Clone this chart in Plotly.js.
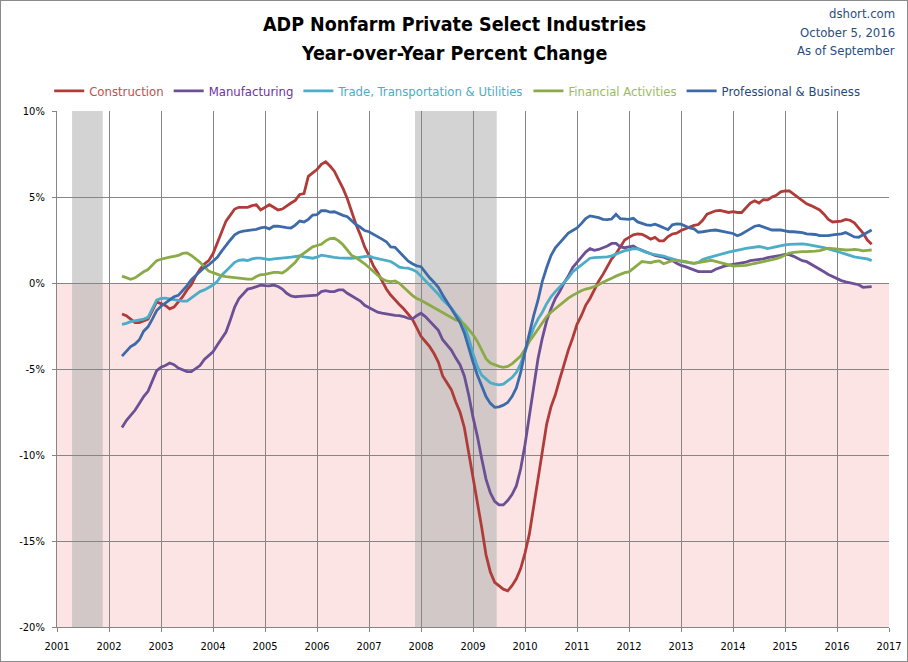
<!DOCTYPE html>
<html>
<head>
<meta charset="utf-8">
<script src="https://cdn.plot.ly/plotly-3.0.1.min.js"></script>
<style>
  html, body { margin: 0; padding: 0; background: #fff; }
  #wrap { position: relative; width: 908px; height: 662px; }
  #chart { width: 908px; height: 662px; }
  #frame { position: absolute; left: 0; top: 0; width: 906px; height: 660px; border: 1px solid #8a8a8a; pointer-events: none; }
</style>
</head>
<body>
<div id="wrap"><div id="chart"></div><div id="frame"></div></div>
<script>
// ---- Data (monthly, April 2002 through September 2016) ----
const startYear = 2002;
const startMonth = 4;

const seriesNames = ["Construction", "Manufacturing", "Trade, Transportation & Utilities", "Financial Activities", "Professional & Business"];

const construction = [
 -1.8,-1.9,-2.1,-2.3,-2.3,-2.2,-2.1,-1.6,-1.1,
 -1.2,-1.3,-1.5,-1.4,-1.1,-0.8,-0.4,-0.1,0.4,0.8,1.1,1.3,
 1.7,2.3,3.0,3.6,3.95,4.3,4.4,4.4,4.4,4.5,4.55,4.25,
 4.4,4.55,4.4,4.25,4.3,4.5,4.65,4.8,5.15,5.2,6.2,6.4,
 6.6,6.9,7.05,6.8,6.5,6.0,5.5,4.9,4.1,3.4,2.8,2.1,
 1.6,1.0,0.6,0.15,-0.35,-0.7,-1.0,-1.25,-1.5,-1.8,-2.1,-2.6,
 -3.1,-3.4,-3.7,-4.1,-4.6,-5.4,-5.8,-6.2,-6.9,-7.5,-8.4,-9.8,
 -11.2,-12.6,-14.2,-15.8,-16.8,-17.4,-17.6,-17.8,-17.9,-17.6,-17.2,-16.6,
 -15.7,-14.6,-13.0,-11.4,-9.8,-8.2,-7.2,-6.5,-5.6,-4.7,-3.9,-3.2,
 -2.4,-1.9,-1.3,-0.9,-0.4,0.1,0.5,0.95,1.4,1.7,2.1,2.5,
 2.65,2.8,2.85,2.83,2.7,2.55,2.65,2.45,2.45,2.7,2.85,2.9,
 3.05,3.15,3.28,3.35,3.4,3.65,4.0,4.08,4.2,4.22,4.18,4.1,
 4.15,4.1,4.1,4.4,4.65,4.78,4.65,4.85,4.83,5.0,5.1,5.3,
 5.35,5.35,5.15,4.98,4.8,4.6,4.5,4.35,4.25,4.0,3.7,3.55,
 3.56,3.6,3.7,3.65,3.5,3.2,2.9,2.5,2.25
];

const manufacturing = [
 -8.4,-8.0,-7.7,-7.4,-7.0,-6.6,-6.3,-5.7,-5.1,
 -4.9,-4.8,-4.65,-4.75,-4.95,-5.05,-5.15,-5.15,-4.95,-4.8,-4.45,-4.2,
 -4.0,-3.6,-3.2,-2.85,-2.15,-1.4,-0.9,-0.6,-0.35,-0.3,-0.22,-0.12,
 -0.15,-0.17,-0.12,-0.2,-0.35,-0.6,-0.75,-0.8,-0.78,-0.76,-0.76,-0.76,
 -0.7,-0.5,-0.45,-0.5,-0.5,-0.4,-0.4,-0.6,-0.75,-0.9,-1.05,-1.3,
 -1.45,-1.6,-1.7,-1.75,-1.8,-1.85,-1.88,-1.9,-1.95,-2.05,-2.1,-1.9,
 -1.76,-1.95,-2.2,-2.5,-2.75,-3.3,-3.6,-3.9,-4.35,-4.75,-5.4,-6.5,
 -7.8,-8.9,-10.2,-11.4,-12.2,-12.7,-12.9,-12.9,-12.65,-12.3,-11.8,-10.8,
 -9.4,-7.8,-6.0,-4.4,-3.2,-2.2,-1.5,-0.9,-0.5,0.0,0.4,0.9,
 1.2,1.5,1.8,2.0,1.9,1.95,2.05,2.15,2.3,2.3,2.1,2.05,
 2.1,2.15,2.0,1.9,1.78,1.68,1.6,1.55,1.5,1.4,1.3,1.15,
 1.02,0.95,0.85,0.72,0.66,0.66,0.66,0.66,0.8,0.9,0.98,1.04,
 1.08,1.12,1.16,1.22,1.3,1.32,1.34,1.4,1.47,1.5,1.55,1.6,
 1.66,1.65,1.55,1.4,1.3,1.24,1.08,0.95,0.8,0.65,0.5,0.38,
 0.28,0.14,0.07,0.02,-0.03,-0.1,-0.25,-0.25,-0.21
];

const trade = [
 -2.4,-2.35,-2.25,-2.2,-2.15,-2.1,-2.0,-1.5,-1.0,
 -0.9,-0.88,-0.92,-0.97,-1.0,-1.05,-1.05,-0.85,-0.65,-0.5,-0.4,-0.25,
 -0.12,0.1,0.45,0.7,0.95,1.2,1.32,1.35,1.3,1.4,1.45,1.45,
 1.4,1.36,1.4,1.44,1.44,1.48,1.5,1.53,1.57,1.52,1.5,1.44,
 1.5,1.62,1.58,1.52,1.49,1.46,1.44,1.44,1.44,1.46,1.5,1.55,
 1.57,1.48,1.42,1.38,1.34,1.25,1.1,0.92,0.88,0.86,0.78,0.65,
 0.4,0.15,-0.1,-0.35,-0.65,-0.98,-1.2,-1.45,-1.8,-2.1,-2.5,-3.2,
 -4.1,-4.85,-5.35,-5.6,-5.8,-5.88,-5.92,-5.88,-5.7,-5.5,-5.2,-4.7,
 -4.0,-3.3,-2.6,-2.1,-1.7,-1.2,-0.8,-0.5,-0.25,0.05,0.3,0.65,
 0.85,1.0,1.25,1.44,1.48,1.48,1.5,1.52,1.58,1.68,1.78,1.88,
 1.93,2.0,1.98,1.86,1.78,1.7,1.66,1.62,1.57,1.48,1.4,1.32,
 1.26,1.22,1.18,1.14,1.2,1.36,1.45,1.52,1.6,1.69,1.75,1.8,
 1.85,1.88,1.95,2.02,2.06,2.12,2.12,2.07,2.0,2.05,2.12,2.16,
 2.22,2.25,2.27,2.3,2.28,2.24,2.2,2.15,2.1,2.06,1.98,1.92,
 1.82,1.76,1.68,1.58,1.52,1.48,1.44,1.4,1.3
];

const financial = [
 0.4,0.3,0.22,0.3,0.5,0.65,0.78,1.05,1.3,
 1.38,1.42,1.5,1.55,1.6,1.72,1.75,1.6,1.42,1.2,0.95,0.7,
 0.6,0.5,0.42,0.37,0.33,0.3,0.28,0.25,0.22,0.22,0.38,0.48,
 0.5,0.56,0.62,0.62,0.58,0.75,0.95,1.2,1.55,1.75,1.92,2.1,
 2.18,2.25,2.45,2.58,2.6,2.45,2.22,1.9,1.6,1.48,1.32,1.12,
 0.9,0.66,0.45,0.25,0.12,0.08,0.12,-0.02,-0.25,-0.5,-0.72,-0.9,
 -1.0,-1.15,-1.3,-1.45,-1.55,-1.7,-1.85,-2.0,-2.15,-2.2,-2.4,-2.7,
 -3.0,-3.4,-3.95,-4.4,-4.65,-4.75,-4.85,-4.9,-4.85,-4.7,-4.5,-4.25,
 -3.85,-3.4,-3.05,-2.7,-2.3,-1.95,-1.7,-1.5,-1.28,-1.05,-0.88,-0.72,
 -0.56,-0.45,-0.35,-0.3,-0.2,-0.1,0.05,0.15,0.28,0.4,0.5,0.6,
 0.65,0.85,1.05,1.25,1.22,1.18,1.25,1.28,1.12,1.2,1.3,1.3,
 1.28,1.26,1.18,1.14,1.18,1.24,1.28,1.32,1.26,1.18,1.12,1.05,
 0.99,0.99,0.99,1.02,1.08,1.12,1.18,1.24,1.3,1.34,1.42,1.5,
 1.6,1.74,1.78,1.82,1.82,1.82,1.82,1.85,1.88,1.95,2.02,2.0,
 1.97,1.95,1.92,1.93,1.95,1.92,1.87,1.9,1.92
];

const professional = [
 -4.25,-3.95,-3.7,-3.55,-3.3,-2.8,-2.55,-2.1,-1.6,
 -1.35,-1.15,-0.95,-0.8,-0.72,-0.45,-0.15,0.2,0.45,0.7,0.9,1.05,
 1.3,1.5,1.85,2.2,2.5,2.8,2.95,3.02,3.05,3.1,3.12,3.2,
 3.25,3.15,3.3,3.3,3.25,3.22,3.2,3.37,3.6,3.55,3.7,3.95,
 3.98,4.2,4.2,4.12,4.14,4.02,3.93,3.85,3.62,3.4,3.24,3.05,
 2.98,2.85,2.68,2.55,2.4,2.1,2.07,1.8,1.5,1.28,1.12,1.0,
 0.95,0.6,0.3,0.05,-0.25,-0.7,-1.1,-1.5,-1.9,-2.3,-2.9,-3.8,
 -4.6,-5.35,-6.0,-6.6,-7.0,-7.23,-7.2,-7.1,-6.95,-6.6,-6.1,-5.2,
 -4.0,-2.9,-1.9,-1.0,0.1,0.9,1.6,2.05,2.35,2.65,2.9,3.05,
 3.2,3.45,3.75,3.9,3.87,3.8,3.7,3.68,3.72,4.0,3.74,3.7,
 3.7,3.76,3.55,3.47,3.38,3.35,3.42,3.32,3.2,3.1,3.38,3.43,
 3.42,3.3,3.2,3.15,2.95,2.98,3.04,3.06,3.08,3.04,2.98,2.92,
 2.88,2.75,2.85,3.0,3.15,3.3,3.35,3.27,3.15,3.08,3.08,3.08,
 3.03,2.98,2.98,2.96,2.93,2.86,2.84,2.82,2.75,2.74,2.76,2.8,
 2.82,2.86,2.93,2.8,2.68,2.66,2.8,2.95,3.08
];

const yTickValues = [-20, -15, -10, -5, 0, 5, 10];
const yTickLabels = ["-20%", "-15%", "-10%", "-5%", "0%", "5%", "10%"];
const xTickValues = [2001,2002,2003,2004,2005,2006,2007,2008,2009,2010,2011,2012,2013,2014,2015,2016,2017];
const xTickLabels = ["2001","2002","2003","2004","2005","2006","2007","2008","2009","2010","2011","2012","2013","2014","2015","2016","2017"];

// Recessions: [start, end] as decimal years (Mar-Nov 2001, Dec 2007-Jun 2009)
const recessions = [[2001.29, 2001.88], [2007.885, 2009.456]];

const titleLines = ["ADP Nonfarm Private Select Industries", "Year-over-Year Percent Change"];
const sourceLines = ["dshort.com", "October 5, 2016", "As of September"];

// ---- Styling ----
const lineColors = ["#B03C39", "#6C5096", "#4BADC7", "#8AAB47", "#3D6BA9"];
const textColors = ["#C0504D", "#7030A0", "#4BACC6", "#9BBB59", "#1F497D"];
const FONT = "'Liberation Sans Narrow', 'DejaVu Sans Condensed', 'Arial Narrow', sans-serif";
const titleY = [1.1667, 1.1124];
const sourceY = [1.188, 1.1512, 1.1182];

const allSeries = [construction, manufacturing, trade, financial, professional];
const xs = construction.map((_, i) => startYear + (startMonth - 1 + i) / 12);

const traces = allSeries.map((vals, k) => ({
  type: "scatter",
  mode: "lines",
  x: xs,
  y: vals,
  name: '<span style="color:' + textColors[k] + '">' + seriesNames[k] + '</span>',
  line: { color: lineColors[k], width: 2.8 },
  hoverinfo: "x+y"
}));

const shapes = [
  { type: "rect", xref: "paper", yref: "y", x0: 0, x1: 1, y0: -20, y1: 0,
    fillcolor: "#FDE4E4", line: { width: 0 }, layer: "below" }
].concat(recessions.map(r => ({
  type: "rect", xref: "x", yref: "paper", x0: r[0], x1: r[1], y0: 0, y1: 1,
  fillcolor: "rgba(182,182,182,0.6)", line: { width: 0 }, layer: "below"
})));

const annotations = titleLines.map((t, i) => ({
  text: t, xref: "paper", yref: "paper",
  x: 0.4772, y: titleY[i], xanchor: "center", yanchor: "middle",
  showarrow: false,
  font: { family: FONT, size: 19.5, color: "#000", weight: "bold" }
})).concat(sourceLines.map((t, i) => ({
  text: t, xref: "paper", yref: "paper",
  x: 1.0096, y: sourceY[i], xanchor: "right", yanchor: "middle",
  showarrow: false,
  font: { family: FONT, size: 13, color: "#2B4D7E" }
})));

const layout = {
  width: 908, height: 662,
  margin: { l: 57, r: 19, t: 111, b: 35, pad: 0 },
  paper_bgcolor: "#ffffff",
  plot_bgcolor: "#ffffff",
  font: { family: FONT, size: 11, color: "#000" },
  showlegend: true,
  legend: {
    orientation: "h",
    x: 0.481, xanchor: "center", xref: "paper",
    y: 1.039, yanchor: "middle", yref: "paper",
    font: { family: FONT, size: 13 },
    bgcolor: "rgba(0,0,0,0)",
    itemwidth: 30,
    tracegroupgap: 0
  },
  xaxis: {
    range: [2001, 2017],
    tickvals: xTickValues,
    ticktext: xTickLabels,
    showgrid: true, gridcolor: "#868686", gridwidth: 1,
    showline: true, linecolor: "#868686", linewidth: 1,
    ticks: "outside", ticklen: 4, tickcolor: "#868686",
    ticklabelstandoff: 5,
    zeroline: false,
    tickfont: { family: FONT, size: 11, color: "#000" },
    fixedrange: true
  },
  yaxis: {
    range: [-20, 10],
    tickvals: yTickValues,
    ticktext: yTickLabels,
    showgrid: true, gridcolor: "#868686", gridwidth: 1,
    showline: true, linecolor: "#868686", linewidth: 1,
    ticks: "outside", ticklen: 4, tickcolor: "#868686",
    ticklabelstandoff: 5,
    zeroline: false,
    tickfont: { family: FONT, size: 11, color: "#000" },
    fixedrange: true
  },
  shapes: shapes,
  annotations: annotations
};

Plotly.newPlot("chart", traces, layout, { displayModeBar: false, staticPlot: true });
</script>
</body>
</html>
